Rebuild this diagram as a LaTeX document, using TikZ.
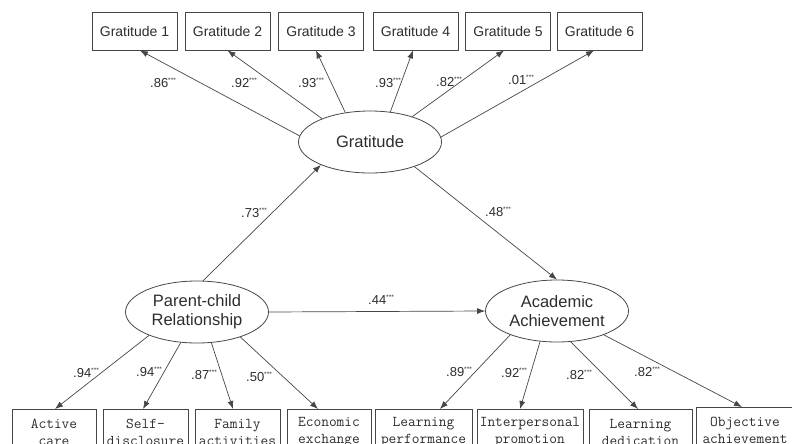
\documentclass[tikz,border=0pt]{standalone}
\usepackage{fontspec}
\setmainfont{Liberation Sans}
\usetikzlibrary{shapes.geometric,arrows.meta}
\definecolor{ink}{RGB}{45,45,45}
\definecolor{wire}{RGB}{70,70,70}
% significance marker set small and raised after a coefficient
\newcommand\sigstars{\raisebox{4.5pt}{\fontsize{6.5}{6.5}\selectfont ***}}

\begin{document}
\begin{tikzpicture}[x=1pt,y=-1pt,
  latent/.style={ellipse,draw=wire,line width=0.8pt,minimum width=143pt,
    minimum height=62pt,inner sep=0pt,align=center,text=ink,
    font=\fontsize{16.5}{19}\selectfont},
  topbox/.style={rectangle,draw=wire,line width=0.8pt,minimum width=85pt,
    minimum height=38pt,inner sep=0pt,text=ink,font=\fontsize{14}{16}\selectfont},
  lowbox/.style={rectangle,draw=wire,line width=0.8pt,minimum height=46pt,
    anchor=north,inner sep=0pt,align=center,text=ink,
    font=\ttfamily\fontsize{15}{17}\selectfont},
  link/.style={draw=wire,line width=0.7pt,-{Latex[length=8pt,width=6pt]}},
  coef/.style={text=ink,font=\fontsize{13}{15}\selectfont,inner sep=0pt}
]
\useasboundingbox (0,0) rectangle (792,444);
\clip (0,0) rectangle (792,444);

% latent variables
\node[latent] (grat) at (370,142) {Gratitude};
\node[latent] (pcr)  at (197,312) {Parent-child\\Relationship};
\node[latent] (aca)  at (557,311) {Academic\\Achievement};

% gratitude indicators
\node[topbox] (g1) at (134.5,31) {Gratitude 1};
\node[topbox] (g2) at (227.5,31) {Gratitude 2};
\node[topbox] (g3) at (321,31)   {Gratitude 3};
\node[topbox] (g4) at (415.5,31) {Gratitude 4};
\node[topbox] (g5) at (508,31)   {Gratitude 5};
\node[topbox] (g6) at (599.5,31) {Gratitude 6};

% parent-child indicators
\node[lowbox,minimum width=84pt]  (ac) at (54,409)    {Active\\care};
\node[lowbox,minimum width=85pt]  (sd) at (145.5,409) {Self-\\disclosure};
\node[lowbox,minimum width=85pt]  (fa) at (237.5,409) {Family\\activities};
\node[lowbox,minimum width=84pt]  (ee) at (329,409)   {Economic\\exchange};

% academic achievement indicators
\node[lowbox,minimum width=97pt]  (lp) at (423.5,409) {Learning\\performance};
\node[lowbox,minimum width=106pt] (ip) at (530,409)   {Interpersonal\\promotion};
\node[lowbox,minimum width=103pt] (ld) at (640.5,409) {Learning\\dedication};
\node[lowbox,minimum width=98pt]  (oa) at (745,407)   {Objective\\achievement};

% loadings of gratitude
\draw[link] (grat.175) -- ([xshift=5.5pt]g1.south);
\draw[link] (grat.154) -- (g2.south);
\draw[link] (grat.130) -- ([xshift=-5pt]g3.south);
\draw[link] (grat.56)  -- ([xshift=-2.5pt]g4.south);
\draw[link] (grat.31)  -- ([xshift=-4pt]g5.south);
\draw[link] (grat.4)   -- ([xshift=-5.5pt]g6.south);

% structural paths
\draw[link] (pcr.79) -- (grat.205.6);
\draw[link] (grat.331) -- (aca.north);
\draw[link] (pcr.east) -- (aca.west);

% loadings of parent-child relationship
\draw[link] (pcr.206.6) -- ([xshift=1pt]ac.north);
\draw[link] (pcr.242)   -- ([xshift=-2.5pt]sd.north);
\draw[link] (pcr.295)   -- ([xshift=-4.5pt]fa.north);
\draw[link] (pcr.330)   -- ([xshift=-11pt]ee.north);

% loadings of academic achievement
\draw[link] (aca.207.5) -- ([xshift=16.5pt]lp.north);
\draw[link] (aca.241)   -- ([xshift=-10pt]ip.north);
\draw[link] (aca.294)   -- ([xshift=-2.5pt]ld.north);
\draw[link] (aca.333)   -- ([xshift=-3pt]oa.north);

% coefficients
\node[coef] (c1) at (163,83) {.86\sigstars};
\node[coef] (c2) at (244,83) {.92\sigstars};
\node[coef] (c3) at (311,83) {.93\sigstars};
\node[coef] (c4) at (388,83) {.93\sigstars};
\node[coef] (c5) at (449,82) {.82\sigstars};
\node[coef] (c6) at (521,80) {.01\sigstars};

\node[coef] (c7) at (254,213) {.73\sigstars};
\node[coef] (c8) at (498,212) {.48\sigstars};
\node[coef] (c9) at (381,300) {.44\sigstars};

\node[coef] (d1) at (86,373)  {.94\sigstars};
\node[coef] (d2) at (149,372) {.94\sigstars};
\node[coef] (d3) at (204,375) {.87\sigstars};
\node[coef] (d4) at (259,377) {.50\sigstars};
\node[coef] (d5) at (459,372) {.89\sigstars};
\node[coef] (d6) at (514,373) {.92\sigstars};
\node[coef] (d7) at (579,375) {.82\sigstars};
\node[coef] (d8) at (647,372) {.82\sigstars};
\end{tikzpicture}
\end{document}
